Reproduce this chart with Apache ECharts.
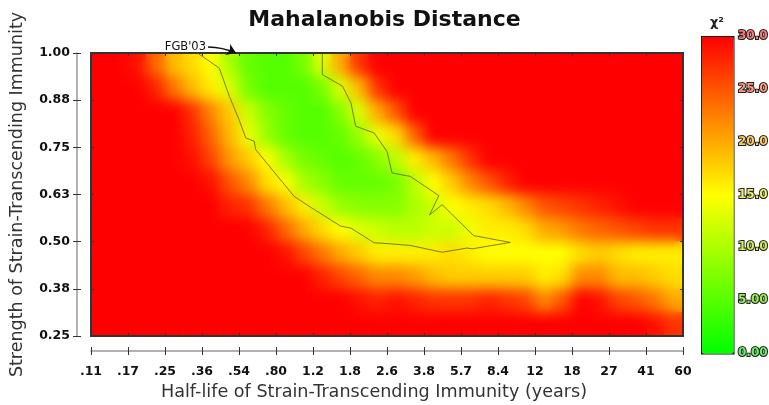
<!DOCTYPE html>
<html><head><meta charset="utf-8">
<script src="https://cdn.jsdelivr.net/npm/echarts@6.0.0/dist/echarts.min.js"></script>
<style>
html,body{margin:0;padding:0;background:#fff;}
#wrap{position:relative;width:769px;height:405px;overflow:hidden;}
#plotclip{position:absolute;left:91px;top:53px;width:592px;height:283px;overflow:hidden;}
#heatBase,#heat{position:absolute;left:0;top:0;width:592px;height:283px;}
#heat{filter:blur(7px);}
#main{position:absolute;left:0;top:0;width:769px;height:405px;}
</style></head><body>
<div id="wrap"><div id="plotclip"><div id="heatBase"></div><div id="heat"></div></div><div id="main"></div></div>
<script>
// ---- axis tick labels ----
const xTickLabels = ['.11','.17','.25','.36','.54','.80','1.2','1.8','2.6','3.8','5.7','8.4','12','18','27','41','60'];
const yTickLabels = ['0.25','0.38','0.50','0.63','0.75','0.88','1.00'];
const legendTickLabels = ['0.00','5.00','10.0','15.0','20.0','25.0','30.0'];
const legendTickColors = ['#66ee66','#99ee55','#ccee55','#eeee66','#ffcc66','#ff9977','#ff7777'];
const pLabels = ['0.001','0.01','0.05'];
const pValues = [26.12, 20.09, 15.51];

// ---- heatmap grid: half-life cell centres (years), strength cell centres ----
const heatX = ['0.121','0.148','0.180','0.219','0.267','0.325','0.396','0.482','0.587','0.714','0.870','1.06','1.29','1.57','1.91','2.33',
               '2.84','3.45','4.20','5.12','6.23','7.59','9.24','11.3','13.7','16.7','20.3','24.7','30.1','36.7','44.7','54.4'];
const heatY = ['0.281','0.344','0.406','0.469','0.531','0.594','0.656','0.719','0.781','0.844','0.906','0.969'];

// chi-square values (capped at 30), one row per strength, top (0.969) to bottom (0.281)
const z0969 = [30,30,29,24,19,17,15,10, 6,5,5,7,13,20,27,30, 30,30,30,30,30,30,30,30, 30,30,30,30,30,30,30,30];
const z0906 = [30,30,30,28,23,19,16,13, 7,5,5,5,7,13,19,27, 30,30,30,30,30,30,30,30, 30,30,30,30,30,30,30,30];
const z0844 = [30,30,30,30,30,27,22,18, 12,8,6,5,5,8,13,20, 25,30,30,30,30,30,30,30, 30,30,30,30,30,30,30,30];
const z0781 = [30,30,30,30,30,28,24,19, 14,9,6,5,5,6,9,14, 17,24,30,30,30,30,30,30, 30,30,30,30,30,30,30,30];
const z0719 = [30,30,30,30,30,29,26,21, 18,15,10,7,6,5,6,8, 11,16,19,23,27,30,30,30, 30,30,30,30,30,30,30,30];
const z0656 = [30,30,30,30,30,30,29,25, 22,17,15,10,8,6,6,6, 7,11,15,18,22,25,28,30, 30,30,30,30,30,30,30,30];
const z0594 = [30,30,30,30,30,30,30,28, 27,23,19,16,12,9,8,8, 8,10,12,15,16,17,19,22, 25,26,27,28,29,30,30,30];
const z0531 = [30,30,30,30,30,30,30,30, 30,28,24,20,17,15,13,12, 11,11,12,12,14,16,16,17, 20,21,23,24,25,26,27,27];
const z0469 = [30,30,30,30,30,30,30,30, 30,30,29,26,23,20,18,16, 16,16,16,17,16,15,15,15, 15,15,17,18,17,16,16,16];
const z0406 = [30,30,30,30,30,30,30,30, 30,30,30,30,28,26,24,22, 22,21,19,18,18,18,18,18, 16,17,22,22,19,19,18,17];
const z0344 = [30,30,30,30,30,30,30,30, 30,30,30,30,30,30,29,28, 29,28,27,27,27,28,27,26, 22,25,30,29,26,25,23,20];
const z0281 = [30,30,30,30,30,30,30,30, 30,30,30,30,30,30,30,30, 30,30,30,30,30,30,30,30, 30,30,30,30,30,30,29,27];

// p = 0.05 contour (half-life in years, strength)
const contourHalfLife = [0.342,0.431,0.480,0.532,0.571,0.625,0.635,0.956,1.12,1.57,1.75,2.24,2.57,3.29,4.62,6.01,6.36,9.54,6.46,4.62,4.04,4.46,3.29,2.71,2.57,2.24,1.84,1.75,1.60,1.29,1.29];
const contourStrength = [1.000,0.960,0.885,0.823,0.775,0.766,0.744,0.620,0.594,0.541,0.536,0.497,0.495,0.490,0.472,0.483,0.481,0.498,0.516,0.598,0.571,0.622,0.673,0.682,0.739,0.788,0.806,0.868,0.912,0.943,1.000];

// FGB'03 annotation
const fgbLabel = "FGB'03";
const fgbFrom = [0.382, 1.016];
const fgbTo = [0.515, 1.0];

const scaleColors = ['#00ff00','#ffff00','#ff0000'];
const F = 'DejaVu Sans';

// ---- heatmap layers (sharp base + blurred copy) ----
const zRowsTopDown = [z0969,z0906,z0844,z0781,z0719,z0656,z0594,z0531,z0469,z0406,z0344,z0281];
const heatData = [];
zRowsTopDown.forEach((row, r) => row.forEach((v, c) => heatData.push([c, heatY.length - 1 - r, v])));

const heatOption = {
  animation: false,
  backgroundColor: 'transparent',
  grid: {left: 0, right: 0, top: 0, bottom: 0, outerBoundsMode: 'none'},
  xAxis: {type: 'category', data: heatX, show: false},
  yAxis: {type: 'category', data: heatY, show: false},
  visualMap: {show: false, min: 0, max: 30, calculable: false, inRange: {color: scaleColors}},
  series: [{type: 'heatmap', data: heatData, itemStyle: {borderWidth: 0}, emphasis: {disabled: true}}]
};
echarts.init(document.getElementById('heatBase'), null, {renderer: 'canvas'}).setOption(heatOption);
echarts.init(document.getElementById('heat'), null, {renderer: 'canvas'}).setOption(heatOption);

// ---- axes, frame, contour, legend ----
const main = echarts.init(document.getElementById('main'), null, {renderer: 'canvas'});
const labelFont = {fontFamily: F, fontWeight: 'bold', fontSize: 12.5, color: '#111'};
const hidden = {axisLine: {show: false}, axisTick: {show: false}, axisLabel: {show: false}, splitLine: {show: false}};
main.setOption({
  animation: false,
  backgroundColor: 'transparent',
  title: {text: 'Mahalanobis Distance', left: 'center', top: 4,
          textStyle: {fontFamily: F, fontWeight: 'bold', fontSize: 22, color: '#111'}},
  grid: [
    {left: 91, top: 53, width: 592, height: 283, show: true, borderColor: '#333', borderWidth: 2, backgroundColor: 'transparent', outerBoundsMode: 'none'},
    {left: 701, top: 36, width: 32, height: 317, show: false, outerBoundsMode: 'none'}
  ],
  xAxis: [
    {gridIndex: 0, type: 'category', data: xTickLabels, boundaryGap: false, position: 'bottom', offset: 15,
     axisLine: {lineStyle: {color: '#999', width: 1.5}},
     axisTick: {inside: false, length: 4, interval: 0, lineStyle: {color: '#333'}},
     axisLabel: Object.assign({interval: 0, margin: 14}, labelFont), splitLine: {show: false},
     name: 'Half-life of Strain-Transcending Immunity (years)', nameLocation: 'middle', nameGap: 32,
     nameTextStyle: {fontFamily: F, fontSize: 17.6, color: '#333', padding: [0, 26, 0, 0]}},
    Object.assign({gridIndex: 0, type: 'category', data: xTickLabels, boundaryGap: false, position: 'bottom', offset: 15}, hidden,
      {axisTick: {show: true, inside: true, length: 4, interval: 0, lineStyle: {color: '#333'}}}),
    Object.assign({gridIndex: 0, type: 'category', data: xTickLabels, boundaryGap: false, position: 'bottom', offset: 0}, hidden,
      {axisTick: {show: true, inside: true, length: 3, interval: 0, lineStyle: {color: '#333'}}}),
    Object.assign({gridIndex: 0, type: 'category', data: xTickLabels, boundaryGap: false, position: 'top', offset: 0}, hidden,
      {axisTick: {show: true, inside: true, length: 3, interval: 0, lineStyle: {color: '#333'}}}),
    Object.assign({gridIndex: 0, type: 'log', min: 0.11, max: 60, show: false}, hidden),
    Object.assign({gridIndex: 1, type: 'value', min: 0, max: 1, position: 'top'}, hidden,
      {name: 'χ²', nameLocation: 'middle', nameGap: 7, nameTextStyle: {fontFamily: F, fontWeight: 'bold', fontSize: 13, color: '#222'}})
  ],
  yAxis: [
    {gridIndex: 0, type: 'category', data: yTickLabels, boundaryGap: false, position: 'left', offset: 14,
     axisLine: {lineStyle: {color: '#999', width: 1.5}},
     axisTick: {inside: false, length: 4, interval: 0, lineStyle: {color: '#333'}},
     axisLabel: Object.assign({interval: 0, margin: 7}, labelFont), splitLine: {show: false},
     name: 'Strength of Strain-Transcending Immunity', nameLocation: 'middle', nameGap: 51,
     nameTextStyle: {fontFamily: F, fontSize: 17.5, color: '#333'}},
    Object.assign({gridIndex: 0, type: 'category', data: yTickLabels, boundaryGap: false, position: 'left', offset: 14}, hidden,
      {axisTick: {show: true, inside: true, length: 4, interval: 0, lineStyle: {color: '#333'}}}),
    Object.assign({gridIndex: 0, type: 'category', data: yTickLabels, boundaryGap: false, position: 'left', offset: 0}, hidden,
      {axisTick: {show: true, inside: true, length: 3, interval: 0, lineStyle: {color: '#333'}}}),
    Object.assign({gridIndex: 0, type: 'category', data: yTickLabels, boundaryGap: false, position: 'right', offset: 0}, hidden,
      {axisTick: {show: true, inside: true, length: 3, interval: 0, lineStyle: {color: '#333'}}}),
    Object.assign({gridIndex: 0, type: 'value', min: 0.25, max: 1.0, show: false}, hidden),
    Object.assign({gridIndex: 1, type: 'value', min: 0, max: 30, interval: 5, position: 'right'}, hidden,
      {axisLabel: {show: true, margin: 5, fontFamily: F, fontWeight: 'bold', fontSize: 12,
        formatter: (v, i) => legendTickLabels[i],
        color: (v, i) => legendTickColors[Math.round(Number(v) / 5)],
        textBorderColor: '#222', textBorderWidth: 2}})
  ],
  visualMap: {
    type: 'continuous', seriesIndex: 3, min: 0, max: 30, calculable: false, show: true,
    left: 701, top: 36, itemWidth: 32, itemHeight: 317, padding: 0,
    borderColor: '#111', borderWidth: 1.5, inRange: {color: scaleColors}
  },
  series: [
    {type: 'line', xAxisIndex: 4, yAxisIndex: 4, symbol: 'none', silent: true, clip: false,
     data: contourHalfLife.map((x, i) => [x, contourStrength[i]]),
     lineStyle: {color: 'rgba(95,95,15,0.8)', width: 1}},
    {type: 'lines', coordinateSystem: 'cartesian2d', xAxisIndex: 4, yAxisIndex: 4, silent: true, clip: false,
     symbol: ['none', 'arrow'], symbolSize: 9, z: 5,
     lineStyle: {color: '#111', width: 1.5, curveness: 0.1, opacity: 1},
     label: {show: true, position: 'start', formatter: fgbLabel, fontFamily: F, fontSize: 11.5, color: '#111',
             textBorderColor: '#fff', textBorderWidth: 2, distance: 2},
     data: [{coords: [fgbFrom, fgbTo]}]},
    {type: 'scatter', xAxisIndex: 5, yAxisIndex: 5, silent: true, symbol: 'rect', symbolSize: [22, 1.5],
     itemStyle: {color: '#111'},
     label: {show: true, position: 'bottom', distance: 1, fontFamily: F, fontSize: 9, color: '#222',
             formatter: p => pLabels[p.dataIndex]},
     data: pValues.map(v => [0.5, v])},
    {type: 'scatter', xAxisIndex: 5, yAxisIndex: 5, data: [], silent: true}
  ]
});
</script>
</body></html>
